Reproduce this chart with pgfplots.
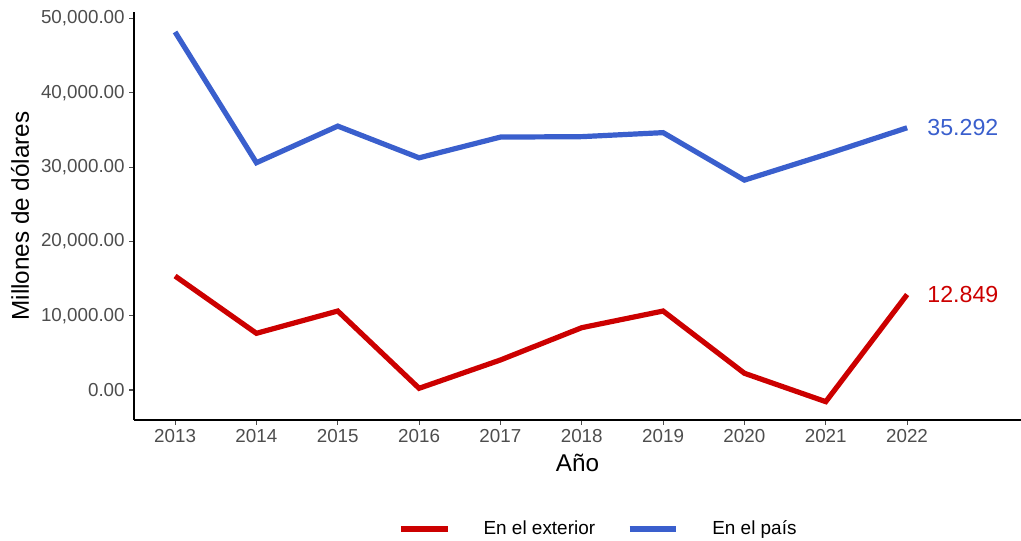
\documentclass[border=0pt]{standalone}
\usepackage{pgfplots}
\pgfplotsset{compat=1.18}
\usepackage{fontspec}
\setmainfont{Liberation Sans}
\definecolor{cred}{HTML}{CC0000}
\definecolor{cblue}{HTML}{3A5FCD}
\definecolor{tickgray}{HTML}{4D4D4D}
\begin{document}
\begin{tikzpicture}
\useasboundingbox (-100.5pt,-90pt) rectangle (665.25pt,315pt);
\begin{axis}[
  at={(0,0)}, anchor=south west,
  scale only axis, width=665.25pt, height=306pt,
  xmin=2012.495, xmax=2023.40, ymin=-4038, ymax=50875,
  axis lines=left, axis line style={-, black, line width=0.9pt},
  xtick={2013,2014,...,2022},
  ytick={0,10000,20000,30000,40000,50000},
  scaled y ticks=false,
  /pgf/number format/assume math mode=true,
  xticklabel style={/pgf/number format/1000 sep=},
  yticklabel style={/pgf/number format/.cd, fixed, fixed zerofill, precision=2, 1000 sep={,}},
  tick align=outside, major tick length=3.5pt,
  tick style={tickgray, line width=0.8pt},
  ticklabel style={font=\fontsize{14.1}{16}\selectfont, text=tickgray},
  xlabel={Año}, ylabel={Millones de dólares},
  every axis x label/.style={at={(axis description cs:0.5,-0.105)}, anchor=center, font=\fontsize{18.2}{21}\selectfont},
  every axis y label/.style={at={(axis description cs:-0.1285,0.5)}, anchor=center, rotate=90, font=\fontsize{18.2}{21}\selectfont},
  legend style={at={(axis description cs:0.524,-0.267)}, anchor=center, draw=none, fill=none,
    legend columns=2, font=\fontsize{14.2}{17}\selectfont,
    /tikz/every odd column/.append style={column sep=23pt},
    /tikz/every even column/.append style={column sep=22pt}},
  legend image code/.code={\draw[#1] (0pt,0pt) -- (35pt,0pt);},
]
\addplot[cred, line width=3.9pt] coordinates {
 (2013,15340) (2014,7630) (2015,10630) (2016,230) (2017,4040)
 (2018,8390) (2019,10630) (2020,2250) (2021,-1570) (2022,12849)};
\addlegendentry{En el exterior}
\addplot[cblue, line width=3.9pt] coordinates {
 (2013,48190) (2014,30590) (2015,35520) (2016,31250) (2017,34040)
 (2018,34100) (2019,34640) (2020,28250) (2021,31700) (2022,35292)};
\addlegendentry{En el país}
\node[anchor=west, inner sep=0pt, text=cred, font=\fontsize{17.4}{20}\selectfont, xshift=15pt] at (axis cs:2022,12849) {12.849};
\node[anchor=west, inner sep=0pt, text=cblue, font=\fontsize{17.4}{20}\selectfont, xshift=15pt] at (axis cs:2022,35292) {35.292};
\end{axis}
\end{tikzpicture}
\end{document}
